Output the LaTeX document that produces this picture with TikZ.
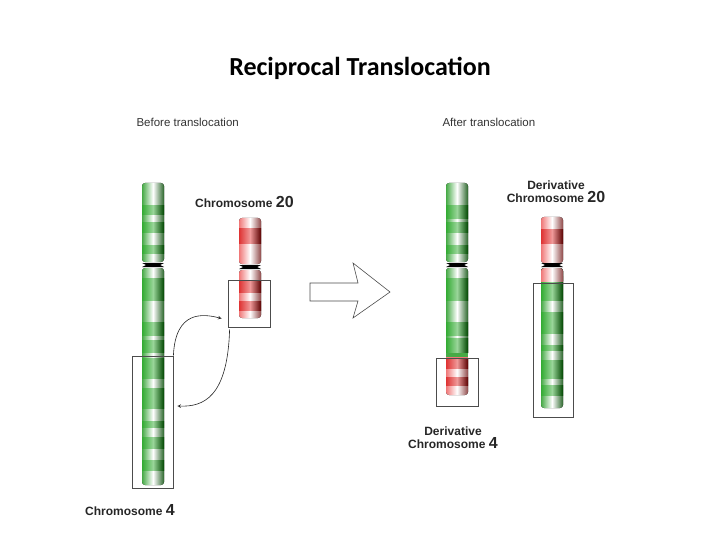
\documentclass[tikz,border=0pt]{standalone}
\usepackage{fontspec}
\setmainfont{Liberation Sans}
\newfontfamily\titlefont{Carlito}
\usetikzlibrary{positioning}
\usetikzlibrary{calc}
\usetikzlibrary{arrows}
\usetikzlibrary{shapes}
\definecolor{chrgreen}{RGB}{0, 150, 0}
\definecolor{chrdkgreen}{RGB}{0, 70, 0}
\definecolor{chrred}{RGB}{215, 0, 0}
\definecolor{chrdkred}{RGB}{90, 0, 0}
\definecolor{chrpink}{RGB}{240, 120, 120}
\definecolor{chrltgreen}{RGB}{70, 170, 70}

% arm of a chromosome: x centre, top, bottom, light colour
\newcommand{\chrarm}[4]{%
  \fill[left color=#4, right color=#4!60!black, middle color=white, rounded corners=3pt]
    (#1-11,#2) rectangle (#1+11,#3);}
% dark band: x centre, top, bottom, colour, dark colour
\newcommand{\chrband}[5]{%
  \fill[left color=#4!80!white, right color=#5, middle color=#4!40!white]
    (#1-11,#2) rectangle (#1+11,#3);}
% centromere
\newcommand{\chrcen}[2]{%
  \fill[black] (#1-11,#2-2) -- (#1-7,#2) -- (#1-11,#2+2) -- (#1+11,#2+2) -- (#1+7,#2) -- (#1+11,#2-2) -- cycle;}

\begin{document}
\begin{tikzpicture}[
    x=1pt, y=-1pt,
    >=stealth,
    % node styles
    title/.style = {font=\titlefont\bfseries\fontsize{26}{30}\selectfont},
    head/.style = {font=\fontsize{11.5}{13}\selectfont, text=black!80},
    chrlabel/.style = {font=\bfseries\fontsize{12}{13}\selectfont, align=center, inner sep=0pt, text=black!85},
    selbox/.style = {draw=black!70, line width=0.8pt, inner sep=0pt},
    % arrow styles
    swap/.style = {->, line width=0.6pt, draw=black!85},
    bigarr/.style = {draw=black!70, fill=white, line width=0.6pt}
  ]
  \useasboundingbox (0,0) rectangle (720,540);

  % --- Titles
  \node[title] (ttl) at (360,68) {Reciprocal Translocation};
  \node[head, anchor=west] (before) at (133,122) {Before translocation};
  \node[head, anchor=west] (after) at (439,122) {After translocation};

  % --- Chromosome 4
  \chrarm{153}{183}{262}{chrltgreen}
  \chrarm{153}{268}{485}{chrltgreen}
  \foreach \a/\b in {206/215, 223/232, 245/253, 278/300, 322/335, 340/352,
                     358/378, 388/408, 421/427, 437/448, 460/470}
    \chrband{153}{\a}{\b}{chrgreen}{chrdkgreen};
  \chrcen{153}{265}

  % --- Chromosome 20
  \chrarm{250}{218}{264}{chrpink}
  \chrarm{250}{270}{318}{chrpink}
  \foreach \a/\b in {229/243, 281/292, 301/310}
    \chrband{250}{\a}{\b}{chrred}{chrdkred};
  \chrcen{250}{267}

  % --- Derivative chromosome 4
  \chrarm{457}{183}{262}{chrltgreen}
  \chrarm{457}{268}{356}{chrltgreen}
  \chrarm{457}{356}{395}{chrpink}
  \fill[chrpink] (446,356) rectangle (468,362);
  \fill[chrltgreen] (446,350) rectangle (468,357);
  \foreach \a/\b in {206/219, 223/232, 245/253, 278/300, 322/335, 338/352}
    \chrband{457}{\a}{\b}{chrgreen}{chrdkgreen};
  \foreach \a/\b in {358/368, 377/385}
    \chrband{457}{\a}{\b}{chrred}{chrdkred};
  \chrcen{457}{265}

  % --- Derivative chromosome 20
  \chrarm{552}{217}{263}{chrpink}
  \chrarm{552}{268}{408}{chrltgreen}
  \fill[left color=chrpink, right color=chrpink!60!black, middle color=white, rounded corners=3pt]
    (541,268) rectangle (563,284);
  \fill[left color=chrpink, right color=chrpink!60!black, middle color=white]
    (541,276) rectangle (563,282);
  \chrband{552}{230}{243}{chrred}{chrdkred}
  \foreach \a/\b in {282/300, 312/333, 345/350, 360/378, 385/395}
    \chrband{552}{\a}{\b}{chrgreen}{chrdkgreen};
  \chrcen{552}{265}

  % --- Selection boxes
  \node[selbox, minimum width=41pt, minimum height=132pt] (box4) at (152.5,422) {};
  \node[selbox, minimum width=42pt, minimum height=47pt] (box20) at (249,303.5) {};
  \node[selbox, minimum width=42pt, minimum height=48pt] (dbox4) at (457,382) {};
  \node[selbox, minimum width=40pt, minimum height=134pt] (dbox20) at (553,350) {};

  % --- Labels
  \node[chrlabel, anchor=west] (lab20) at (195,202) {Chromosome {\fontsize{16}{16}\selectfont 20}};
  \node[chrlabel, anchor=west] (lab4) at (85,510) {Chromosome {\fontsize{16}{16}\selectfont 4}};
  \node[chrlabel] (dlab20) at (556,192) {Derivative\\Chromosome {\fontsize{16}{16}\selectfont 20}};
  \node[chrlabel] (dlab4) at (453,438) {Derivative\\Chromosome {\fontsize{16}{16}\selectfont 4}};

  % --- Swap arrows
  \draw[swap] (box4.north east) .. controls ($(box4.north east)+(2,-45)$) and ($(box20.west)+(-25,10)$) .. ($(box20.west)+(-6,15)$);
  \draw[swap] ($(box20.south west)+(2,2)$) .. controls ($(box20.south west)+(0,70)$) and ($(box4.east)+(30,-15)$) .. ($(box4.east)+(4,-16)$);

  % --- Big arrow
  \coordinate (barr) at (310,292);
  \draw[bigarr] (barr) ++(0,-9) -- ++(48,0) -- ++(-5,-20) -- (390,292)
    -- (353,318) -- (358,301) -- (310,301) -- cycle;
\end{tikzpicture}
\end{document}
